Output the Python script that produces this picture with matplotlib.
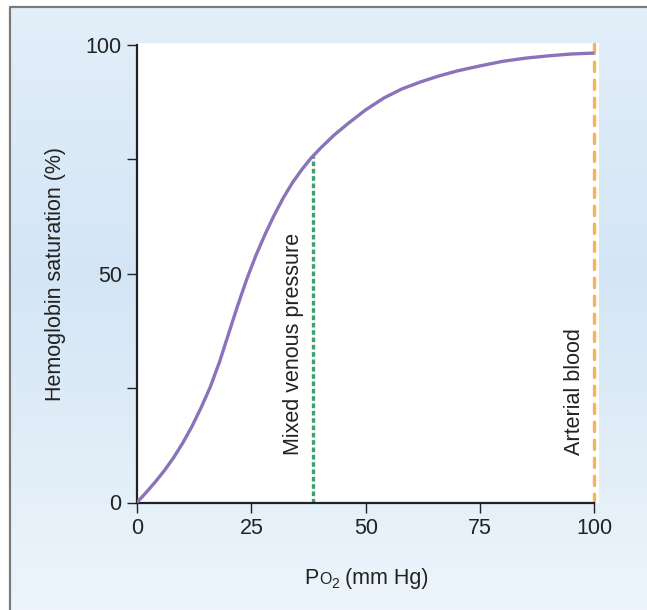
#import library
import numpy as np
import matplotlib
matplotlib.use('Agg')
from matplotlib import pyplot as plt
from matplotlib.transforms import IdentityTransform

plt.rcParams['font.family'] = ['Liberation Sans', 'DejaVu Sans']

###### DATA ######
po2 = [0, 2, 4, 6, 8, 10, 12, 14, 16, 18, 20, 22, 24, 26, 28, 30, 32, 34, 36,
       38, 40, 43, 46, 50, 54, 58, 62, 66, 70, 75, 80, 85, 90, 95, 100]
saturasi = [0, 2.2, 4.5, 7.0, 9.8, 13.0, 16.6, 20.7, 25.2, 30.6, 36.8, 43.0,
            48.8, 54.0, 58.6, 62.8, 66.6, 69.9, 72.7, 75.2, 77.3, 80.2, 82.7,
            85.8, 88.4, 90.4, 91.9, 93.2, 94.3, 95.4, 96.4, 97.1, 97.6, 98.0, 98.2]
venous_po2 = 38.5
venous_sat = 75.7
arterial_po2 = 100
xticks = [0, 25, 50, 75, 100]
yticks = [0, 25, 50, 75, 100]
ylabels = ['0', '', '50', '', '100']

FS = 15.5
TXT = '#222222'

###### FIGURE ######
fig = plt.figure(figsize=(6.47, 6.10), dpi=100)

# background gradient panel
bg = fig.add_axes([0, 0, 1, 1], zorder=0)
t = np.linspace(0, 1, 256)
c_top = np.array([0.905, 0.945, 0.98])
c_mid = np.array([0.83, 0.90, 0.96])
c_bot = np.array([0.93, 0.96, 0.985])
w = np.abs(t - 0.45) / 0.55
grad = np.array([c_mid * (1 - wi) + (c_top if ti < 0.45 else c_bot) * wi for ti, wi in zip(t, w)])
bg.imshow(grad[:, None, :], aspect='auto', extent=[0, 1, 0, 1], origin='upper')
bg.set_xlim(0, 1), bg.set_ylim(0, 1)
# white margin + gray border on top / left
bg.fill_between([0, 1], 1 - 7 / 610, 1, color='white', zorder=2)
bg.fill_between([0, 10 / 647], 0, 1, color='white', zorder=2)
bg.plot([10 / 647, 10 / 647, 1], [0, 1 - 7 / 610, 1 - 7 / 610], color='#7a7a7a', lw=1.6, zorder=3)
bg.axis('off')

# main plot
ax = fig.add_axes([137 / 647, 1 - 502.5 / 610, (599 - 137) / 647, (502.5 - 43) / 610], zorder=1)
ax.set_facecolor('white')
ax.plot(po2, saturasi, color='#8b73b9', lw=2.4, solid_capstyle='butt',
        solid_joinstyle='round', zorder=3)
ax.plot([venous_po2, venous_po2], [0, venous_sat], color='#3fa070', lw=2.4,
        dashes=(1.4, 0.8), zorder=2)
ax.plot([arterial_po2, arterial_po2], [0, 100.4], color='#f6b35a', lw=2.4,
        dashes=(2.8, 2.6), dash_capstyle='round', zorder=2)

ax.text(34.3, 10.3, 'Mixed venous pressure', rotation=90, ha='center', va='bottom',
        fontsize=FS, color=TXT)
ax.text(95.7, 10.3, 'Arterial blood', rotation=90, ha='center', va='bottom',
        fontsize=FS, color=TXT)

ax.set_xlim(0, 101)
ax.set_ylim(0, 100.4)
ax.set_xticks(xticks)
ax.set_yticks(yticks)
ax.set_yticklabels(ylabels)
ax.spines['top'].set_visible(False)
ax.spines['right'].set_visible(False)
for s in ['left', 'bottom']:
    ax.spines[s].set_linewidth(1.6)
    ax.spines[s].set_color(TXT)
ax.spines['left'].set_bounds(0, 100)
ax.spines['bottom'].set_bounds(0, 100)
ax.tick_params(length=7, width=1.0, colors=TXT, labelsize=FS, pad=4)

fig.text(55 / 647, 1 - 274 / 610, 'Hemoglobin saturation (%)', rotation=90,
         ha='center', va='center', fontsize=FS, color=TXT)

# x label "PO2 (mm Hg)" dengan O kecil dan 2 subscript (pixel coords)
bagian = [('P', FS, 0), ('O', 11.5, 0), ('2', 10, -4), (' (mm Hg)', FS, 0)]
fig.canvas.draw()
r = fig.canvas.get_renderer()
teks = []
for s, fs, dy in bagian:
    tt = fig.text(0, 0, s, fontsize=fs, color=TXT, ha='left', va='baseline',
                  transform=IdentityTransform())
    teks.append((tt, dy))
lebar = [tt.get_window_extent(r).width for tt, _ in teks]
x = 366.5 - sum(lebar) / 2
for (tt, dy), wd in zip(teks, lebar):
    tt.set_position((x, 26 + dy))
    x += wd

plt.savefig('out.png', dpi=100)
